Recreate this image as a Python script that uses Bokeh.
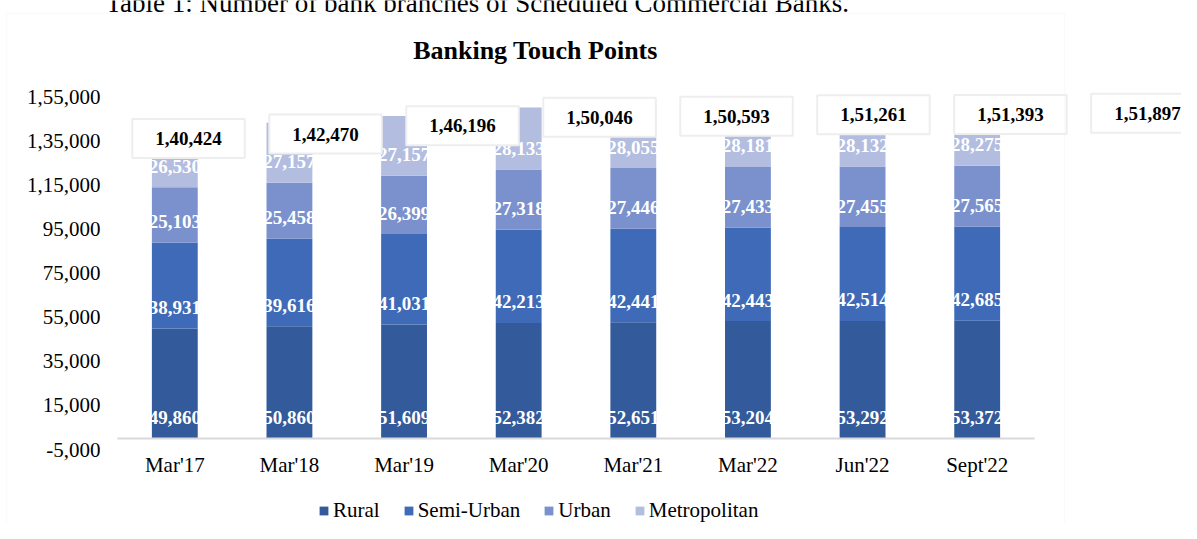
from bokeh.plotting import figure
from bokeh.models import (Range1d, FixedTicker, Label, Legend,
                          LegendItem, BoxAnnotation, ColumnDataSource)
from bokeh.core.properties import value
from bokeh.embed import file_html
from bokeh.resources import INLINE

categories = ["Mar'17", "Mar'18", "Mar'19", "Mar'20", "Mar'21", "Mar'22", "Jun'22", "Sept'22"]
series_names = ["Rural", "Semi-Urban", "Urban", "Metropolitan"]
rural = [49860, 50860, 51609, 52382, 52651, 53204, 53292, 53372]
semi_urban = [38931, 39616, 41031, 42213, 42441, 42443, 42514, 42685]
urban = [25103, 25458, 26399, 27318, 27446, 27433, 27455, 27565]
metropolitan = [26530, 27157, 27157, 28133, 28055, 28181, 28132, 28275]
totals = [140424, 142470, 146196, 150046, 150593, 151261, 151393, 151897]
y_ticks = [-5000, 15000, 35000, 55000, 75000, 95000, 115000, 135000, 155000]
y_tick_labels = ["-5,000", "15,000", "35,000", "55,000", "75,000", "95,000",
                 "1,15,000", "1,35,000", "1,55,000"]

colors = ["#335A9A", "#3E6AB7", "#7A91CE", "#B2BDDF"]
FONT = "Liberation Serif"

W, H = 1181, 523
# plot-area geometry (pixels in the canvas)
PX_LEFT, PX_RIGHT = 117, 1034          # span of the category axis
PX_TOP, PX_BOTTOM = 96, 449            # 1,55,000 and -5,000
y_lo, y_hi = y_ticks[0], y_ticks[-1]
x_lo, x_hi = -0.5, len(categories) - 0.5
xs = (PX_RIGHT - PX_LEFT) / (x_hi - x_lo)
ys = (PX_BOTTOM - PX_TOP) / (y_hi - y_lo)
x_range = Range1d(x_lo - PX_LEFT / xs, x_hi + (W - PX_RIGHT) / xs)
y_range = Range1d(y_lo - (H - PX_BOTTOM) / ys, y_hi + PX_TOP / ys)


def px_to_x(px):
    return x_lo + (px - PX_LEFT) / xs


def px_to_y(py):
    return y_hi + (PX_TOP - py) / ys


def fmt_in(n):
    s = str(int(n))
    if len(s) <= 3:
        return s
    head, tail = s[:-3], s[-3:]
    parts = []
    while len(head) > 2:
        parts.insert(0, head[-2:])
        head = head[:-2]
    if head:
        parts.insert(0, head)
    return ",".join(parts) + "," + tail


p = figure(x_range=x_range, y_range=y_range, width=W, height=H,
           output_backend="svg", toolbar_location=None,
           min_border=0, min_border_left=0, min_border_right=0,
           min_border_top=0, min_border_bottom=0)
p.outline_line_color = None
p.xgrid.visible = False
p.ygrid.visible = False
p.background_fill_color = "white"
p.border_fill_color = "white"

xidx = list(range(len(categories)))
data = dict(x=xidx, Rural=rural, **{"Semi-Urban": semi_urban},
            Urban=urban, Metropolitan=metropolitan)
src = ColumnDataSource(data)
renderers = p.vbar_stack(series_names, x="x", width=0.4, color=colors,
                         line_color=None, source=src)

# segment labels (inside base)
series_vals = [rural, semi_urban, urban, metropolitan]
lx, ly, lt = [], [], []
for k, vals in enumerate(series_vals):
    for i in xidx:
        bottom = sum(series_vals[j][i] for j in range(k))
        lx.append(i)
        ly.append(bottom)
        lt.append(fmt_in(vals[i]))
p.text(x=lx, y=ly, text=lt, text_color="white", text_align="center",
       text_baseline="middle", y_offset=-21, text_font=value(FONT),
       text_font_style="bold", text_font_size="19px")

# total boxes (drifting to the right, as in the original)
for i, t in enumerate(totals):
    p.add_layout(Label(x=i + 0.12 + 0.195 * i, y=t - 4500, text=fmt_in(t),
                       text_align="center", text_baseline="middle",
                       text_font=FONT, text_font_style="bold",
                       text_font_size="19px", text_color="black",
                       background_fill_color="white",
                       border_line_color="#EEEEEE", border_line_width=2,
                       padding=dict(left=23, right=23, top=13, bottom=13)))

# axes drawn at fixed locations
p.yaxis.fixed_location = x_lo
p.yaxis.ticker = FixedTicker(ticks=y_ticks)
p.yaxis.major_label_overrides = {t: l for t, l in zip(y_ticks, y_tick_labels)}
p.yaxis.axis_line_color = None
p.yaxis.major_tick_line_color = None
p.yaxis.minor_tick_line_color = None
p.yaxis.major_tick_out = 0
p.yaxis.major_tick_in = 0
p.yaxis.major_label_standoff = 17
p.yaxis.major_label_text_font = FONT
p.yaxis.major_label_text_font_size = "21px"
p.yaxis.major_label_text_color = "black"

p.xaxis.fixed_location = 0
p.xaxis.bounds = (x_lo, x_hi)
p.xaxis.ticker = FixedTicker(ticks=xidx)
p.xaxis.major_label_overrides = {i: c for i, c in zip(xidx, categories)}
p.xaxis.axis_line_color = "#D9D9D9"
p.xaxis.axis_line_width = 2
p.xaxis.major_tick_line_color = None
p.xaxis.minor_tick_line_color = None
p.xaxis.major_tick_out = 0
p.xaxis.major_tick_in = 0
p.xaxis.major_label_standoff = 15
p.xaxis.major_label_text_font = FONT
p.xaxis.major_label_text_font_size = "21px"
p.xaxis.major_label_text_color = "black"

# title and caption
p.add_layout(Label(x=px_to_x(535), y=px_to_y(50), text="Banking Touch Points",
                   text_align="center", text_baseline="middle", text_font=FONT,
                   text_font_style="bold", text_font_size="26px", text_color="black"))
p.add_layout(Label(x=px_to_x(105), y=px_to_y(2),
                   text="Table 1: Number of bank branches of Scheduled Commercial  Banks.",
                   text_align="left", text_baseline="alphabetic", text_font=FONT,
                   text_font_size="27px", text_color="black"))

# chart border
p.add_layout(BoxAnnotation(left=px_to_x(6), right=px_to_x(1064), top=px_to_y(13),
                           bottom=px_to_y(H + 20), fill_alpha=0,
                           line_color="#EDEDED", line_width=1.5))

legend = Legend(items=[LegendItem(label=n, renderers=[r]) for n, r in zip(series_names, renderers)],
                location=(318, 0), orientation="horizontal",
                label_text_font=FONT, label_text_font_size="21px",
                label_text_color="black",
                glyph_width=11, glyph_height=11, label_standoff=4, spacing=23,
                padding=0, margin=0, border_line_color=None,
                background_fill_alpha=0, label_height=20)
p.add_layout(legend)

open("out.html", "w").write(file_html(p, INLINE))
